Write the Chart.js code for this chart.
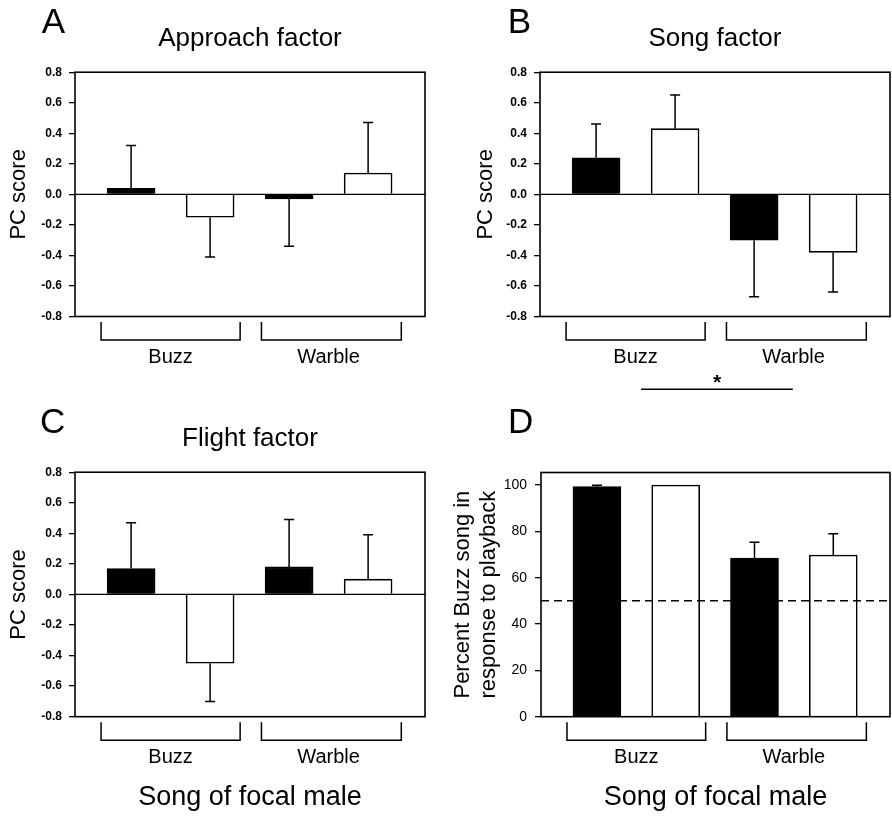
<!DOCTYPE html>
<html><head><meta charset="utf-8">
<script src="https://cdn.jsdelivr.net/npm/chart.js@4.4.1/dist/chart.umd.min.js"></script>
<style>
html,body{margin:0;padding:0;background:#fff;}
#wrap{position:relative;width:892px;height:816px;background:#fff;}
canvas{position:absolute;}
</style></head><body>
<div id="wrap">
<canvas id="cA" width="446" height="400" style="left:0;top:0"></canvas>
<canvas id="cB" width="446" height="400" style="left:446px;top:0"></canvas>
<canvas id="cC" width="446" height="416" style="left:0;top:400px"></canvas>
<canvas id="cD" width="446" height="416" style="left:446px;top:400px"></canvas>
</div>
<script>
// ---- data ----
const barPositions = [0, 1, 2, 3];            // Buzz/black, Buzz/white, Warble/black, Warble/white
const groupLabels = ['Buzz', 'Warble'];
const groupCenters = [0.5, 2.5];
const groupSpans = [[-0.38, 1.38], [1.65, 3.42]];
const panelLetters = ['A', 'B', 'C', 'D'];
const panelTitles = ['Approach factor', 'Song factor', 'Flight factor', ''];
const pcAxisTitle = 'PC score';
const pctAxisTitle = ['Percent Buzz song in', 'response to playback'];
const xAxisTitle = 'Song of focal male';

const approachMeans = [0.04, -0.15, -0.03, 0.14];
const approachSE    = [0.28, 0.26, 0.31, 0.33];
const songMeans     = [0.24, 0.43, -0.30, -0.38];
const songSE        = [0.22, 0.22, 0.37, 0.26];
const flightMeans   = [0.17, -0.45, 0.18, 0.10];
const flightSE      = [0.30, 0.25, 0.31, 0.29];
const percentMeans  = [99.3, 100, 68.5, 69.8];
const percentSE     = [0.6, 0, 6.8, 9.2];
const chanceLevel   = 50;
const songSigSpan   = [0.57, 2.49];
const sigLabel      = '*';

const FONT = "'Liberation Sans', Arial, Helvetica, sans-serif";
const X_MIN = -0.71, X_MAX = 3.72;

function decorPlugin(o) {
  return {
    id: 'decor' + o.letter,
    afterDatasetsDraw(chart) {
      const ctx = chart.ctx, a = chart.chartArea;
      const xs = chart.scales.x, ys = chart.scales.y;
      ctx.save();
      ctx.strokeStyle = '#000';
      // zero line
      if (o.zeroLine) {
        const y0 = ys.getPixelForValue(0);
        ctx.lineWidth = 1.3;
        ctx.beginPath(); ctx.moveTo(a.left, y0); ctx.lineTo(a.right, y0); ctx.stroke();
      }
      // error bars
      ctx.lineWidth = 1.5;
      o.means.forEach((m, i) => {
        if (!o.se[i]) return;
        const x = xs.getPixelForValue(barPositions[i]);
        const dir = m >= 0 ? 1 : -1;
        const yb = ys.getPixelForValue(m);
        const ye = ys.getPixelForValue(m + dir * o.se[i]);
        ctx.beginPath();
        ctx.moveTo(x, yb); ctx.lineTo(x, ye);
        ctx.moveTo(x - 5, ye); ctx.lineTo(x + 5, ye);
        ctx.stroke();
      });
      // frame
      ctx.lineWidth = 1.6;
      ctx.strokeRect(a.left, a.top, a.right - a.left, a.bottom - a.top);
      // group brackets
      ctx.lineWidth = 1.5;
      groupSpans.forEach(sp => {
        const x1 = xs.getPixelForValue(sp[0]), x2 = xs.getPixelForValue(sp[1]);
        const yt = a.bottom + 5.5, yb = a.bottom + 23.5;
        ctx.beginPath();
        ctx.moveTo(x1, yt); ctx.lineTo(x1, yb); ctx.lineTo(x2, yb); ctx.lineTo(x2, yt);
        ctx.stroke();
      });
      // significance
      if (o.sig) {
        const x1 = xs.getPixelForValue(o.sig[0]), x2 = xs.getPixelForValue(o.sig[1]);
        ctx.lineWidth = 1.5;
        ctx.beginPath(); ctx.moveTo(x1, 389.3); ctx.lineTo(x2, 389.3); ctx.stroke();
        ctx.fillStyle = '#000';
        ctx.font = 'bold 21px ' + FONT;
        ctx.textAlign = 'center';
        ctx.textBaseline = 'alphabetic';
        ctx.fillText(sigLabel, (x1 + x2) / 2, 389);
      }
      // panel letter
      ctx.fillStyle = '#000';
      ctx.font = '35px ' + FONT;
      ctx.textAlign = 'left';
      ctx.textBaseline = 'alphabetic';
      ctx.fillText(o.letter, o.letterX, 33.3);
      ctx.restore();
    }
  };
}

function makePanel(id, o) {
  const datasets = [{
    type: 'bar',
    order: 1,
    data: barPositions.map((x, i) => ({ x: x, y: o.means[i] })),
    backgroundColor: ['#000000', '#ffffff', '#000000', '#ffffff'],
    borderColor: '#000000',
    borderWidth: 1.6,
    borderSkipped: 'start',
    barThickness: 48
  }];
  if (o.chance !== undefined) {
    datasets.push({
      type: 'line',
      order: 0,
      data: [{ x: X_MIN, y: o.chance }, { x: X_MAX, y: o.chance }],
      borderColor: '#000000',
      borderWidth: 1.5,
      borderDash: [8, 5],
      pointRadius: 0,
      fill: false
    });
  }
  return new Chart(document.getElementById(id), {
    type: 'bar',
    data: { datasets },
    options: {
      responsive: false,
      animation: false,
      devicePixelRatio: 1,
      events: [],
      layout: { padding: { top: o.title ? 0 : 72.5, right: o.padRight, bottom: 0, left: 0 } },
      plugins: {
        legend: { display: false },
        tooltip: { enabled: false },
        title: {
          display: !!o.title,
          text: o.title,
          fullSize: false,
          color: '#000',
          font: { family: FONT, size: 26, weight: 'normal', lineHeight: 1.2 },
          padding: { top: 23.7, bottom: 17.3 }
        }
      },
      scales: {
        x: {
          type: 'linear',
          offset: false,
          min: X_MIN, max: X_MAX,
          grid: { display: false, drawTicks: false, offset: false },
          border: { display: false },
          afterBuildTicks: s => { s.ticks = groupCenters.map(v => ({ value: v })); },
          afterFit: s => { s.height = o.canvasH - o.bottom; },
          ticks: {
            autoSkip: false, maxRotation: 0, padding: 28.5, color: '#000',
            font: { family: FONT, size: 20 },
            callback: (v, i) => groupLabels[i]
          },
          title: {
            display: !!o.xTitle, text: o.xTitle, color: '#000',
            font: { family: FONT, size: 27, lineHeight: 1.2 },
            padding: { top: 0, bottom: 2.5 }
          }
        },
        y: {
          min: o.yMin, max: o.yMax,
          afterFit: s => { s.width = o.axisWidth; },
          grid: { display: true, drawOnChartArea: false, drawTicks: true, tickLength: 6, color: '#000', lineWidth: 1.3 },
          border: { display: false },
          ticks: {
            stepSize: o.yStep, includeBounds: false, color: '#000', padding: o.tickPad,
            font: o.tickFont,
            callback: o.tickFmt
          },
          title: {
            display: true, text: o.yTitle, color: '#000',
            font: { family: FONT, size: 22, lineHeight: o.yLineHeight },
            padding: { top: o.yTitlePad, bottom: 0 }
          }
        }
      }
    },
    plugins: [decorPlugin(o)]
  });
}

const pcFmt = v => (Math.abs(v) < 1e-9 ? '0.0' : v.toFixed(1));
const pcTickFont = { family: FONT, size: 12, weight: 'bold' };

makePanel('cA', {
  letter: panelLetters[0], letterX: 41.7, title: panelTitles[0],
  means: approachMeans, se: approachSE, zeroLine: true,
  yMin: -0.8, yMax: 0.8, yStep: 0.2, tickFmt: pcFmt, tickFont: pcTickFont, tickPad: 7,
  yTitle: pcAxisTitle, yTitlePad: 5.9, yLineHeight: 1.2, axisWidth: 75, padRight: 21,
  canvasH: 400, bottom: 316.5
});
makePanel('cB', {
  letter: panelLetters[1], letterX: 61.7, title: panelTitles[1],
  means: songMeans, se: songSE, zeroLine: true, sig: songSigSpan,
  yMin: -0.8, yMax: 0.8, yStep: 0.2, tickFmt: pcFmt, tickFont: pcTickFont, tickPad: 7,
  yTitle: pcAxisTitle, yTitlePad: 26.5, yLineHeight: 1.2, axisWidth: 94, padRight: 2,
  canvasH: 400, bottom: 316.5
});
makePanel('cC', {
  letter: panelLetters[2], letterX: 40, title: panelTitles[2],
  means: flightMeans, se: flightSE, zeroLine: true,
  yMin: -0.8, yMax: 0.8, yStep: 0.2, tickFmt: pcFmt, tickFont: pcTickFont, tickPad: 7,
  yTitle: pcAxisTitle, yTitlePad: 5.9, yLineHeight: 1.2, axisWidth: 75, padRight: 21,
  xTitle: xAxisTitle, canvasH: 416, bottom: 316.7
});
makePanel('cD', {
  letter: panelLetters[3], letterX: 62, title: panelTitles[3],
  means: percentMeans, se: percentSE, zeroLine: false, chance: chanceLevel,
  yMin: 0, yMax: 105.4, yStep: 20, tickFmt: v => String(v), tickFont: { family: FONT, size: 14 }, tickPad: 8,
  yTitle: pctAxisTitle, yTitlePad: 4.75, yLineHeight: 1.15, axisWidth: 95, padRight: 2,
  xTitle: xAxisTitle, canvasH: 416, bottom: 316.7
});
</script>
</body></html>
